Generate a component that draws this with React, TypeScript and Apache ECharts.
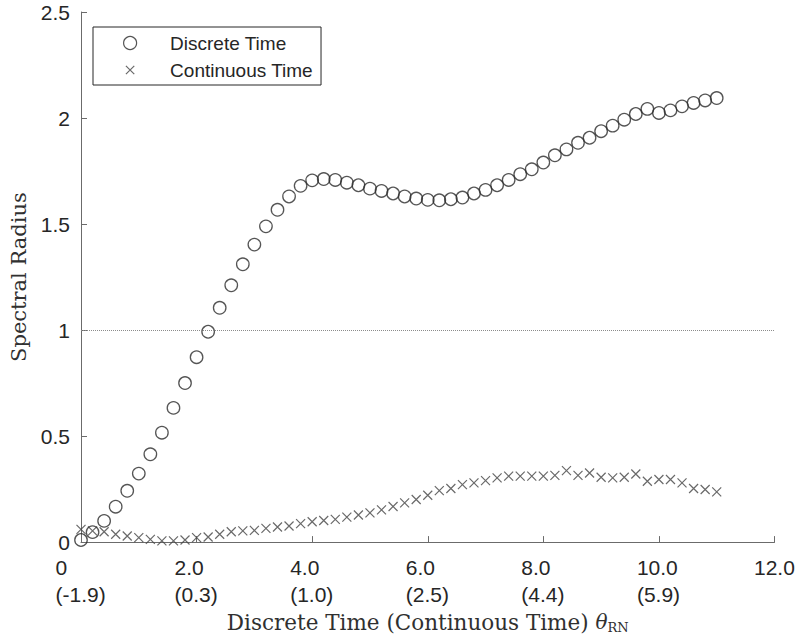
import React, { useEffect, useRef } from 'react';
import * as echarts from 'echarts';

const xValues = [
  0, 0.2, 0.4, 0.6, 0.8, 1.0, 1.2, 1.4, 1.6, 1.8,
  2.0, 2.2, 2.4, 2.6, 2.8, 3.0, 3.2, 3.4, 3.6, 3.8,
  4.0, 4.2, 4.4, 4.6, 4.8, 5.0, 5.2, 5.4, 5.6, 5.8,
  6.0, 6.2, 6.4, 6.6, 6.8, 7.0, 7.2, 7.4, 7.6, 7.8,
  8.0, 8.2, 8.4, 8.6, 8.8, 9.0, 9.2, 9.4, 9.6, 9.8,
  10.0, 10.2, 10.4, 10.6, 10.8, 11.0,
];

const discreteTime = [
  0.01, 0.047, 0.1, 0.167, 0.242, 0.323, 0.414, 0.516, 0.633, 0.75,
  0.872, 0.992, 1.105, 1.211, 1.31, 1.403, 1.489, 1.567, 1.63, 1.68,
  1.706, 1.712, 1.708, 1.695, 1.683, 1.667, 1.656, 1.644, 1.63, 1.62,
  1.614, 1.612, 1.617, 1.625, 1.644, 1.661, 1.683, 1.708, 1.735, 1.758,
  1.79, 1.824, 1.852, 1.883, 1.907, 1.938, 1.964, 1.992, 2.019, 2.043,
  2.024, 2.036, 2.055, 2.071, 2.083, 2.094,
];

const continuousTime = [
  0.06, 0.053, 0.049, 0.037, 0.029, 0.021, 0.013, 0.006, 0.006, 0.01,
  0.021, 0.024, 0.037, 0.049, 0.053, 0.055, 0.065, 0.071, 0.076, 0.087,
  0.096, 0.102, 0.107, 0.118, 0.128, 0.138, 0.152, 0.168, 0.185, 0.201,
  0.221, 0.243, 0.253, 0.271, 0.279, 0.29, 0.303, 0.311, 0.311, 0.311,
  0.311, 0.315, 0.337, 0.315, 0.326, 0.306, 0.303, 0.306, 0.321, 0.287,
  0.295, 0.295, 0.279, 0.253, 0.248, 0.237,
];

const xTickMain = ['0', '2.0', '4.0', '6.0', '8.0', '10.0', '12.0'];
const xTickSub = ['(-1.9)', '(0.3)', '(1.0)', '(2.5)', '(4.4)', '(5.9)', ''];

const seriesNames = ['Discrete Time', 'Continuous Time'];

const SANS = '"Liberation Sans", Arial, Helvetica, sans-serif';
const SERIF = '"DejaVu Serif", serif';
const TICK_FS = 21;
const TEXT_COLOR = '#262626';
const AXIS_COLOR = '#6b6b6b';

function measure(text: string, font: string): number {
  const c = document.createElement('canvas');
  const ctx = c.getContext('2d');
  if (!ctx) return text.length * 10;
  ctx.font = font;
  return ctx.measureText(text).width;
}

export default function App() {
  const ref = useRef<HTMLDivElement>(null);

  useEffect(() => {
    if (!ref.current) return;
    const chart = echarts.init(ref.current, null, { renderer: 'svg' });

    const tickFont = `${TICK_FS}px ${SANS}`;
    const rich: Record<string, any> = {};
    xTickMain.forEach((m, i) => {
      const w = Math.max(measure(m, tickFont), measure(xTickSub[i], tickFont));
      rich['t' + i] = {
        width: Math.ceil(w),
        align: 'left',
        fontSize: TICK_FS,
        fontFamily: SANS,
        lineHeight: 27,
        color: TEXT_COLOR,
      };
    });

    const option: any = {
      animation: false,
      backgroundColor: '#ffffff',
      grid: { left: 76, right: 20, top: 12, bottom: 94.5, containLabel: false },
      legend: {
        left: 93,
        top: 27,
        orient: 'vertical',
        itemWidth: 14,
        itemHeight: 13,
        itemGap: 7,
        padding: [6, 8, 5, 30],
        borderColor: '#262626',
        borderWidth: 1,
        backgroundColor: '#ffffff',
        selectedMode: false,
        formatter: (name: string) => `{sp| }${name}`,
        textStyle: {
          fontFamily: SANS,
          fontSize: 19,
          color: TEXT_COLOR,
          lineHeight: 20,
          rich: { sp: { width: 28, fontSize: 19, lineHeight: 20 } },
        },
        itemStyle: { borderWidth: 1.2 },
        data: [
          { name: seriesNames[0], icon: 'circle' },
          { name: seriesNames[1], icon: 'path://M0,0L9,9M9,0L0,9M-2.5,-2.5M11.5,11.5' },
        ],
      },
      xAxis: {
        type: 'value',
        min: 0,
        max: 12,
        interval: 2,
        name: 'Discrete Time (Continuous Time) {th|θ}{sub|RN}',
        nameLocation: 'middle',
        nameGap: 61,
        nameTextStyle: {
          fontFamily: SERIF,
          fontSize: 21.5,
          color: '#303030',
          lineHeight: 24,
          rich: {
            th: { fontFamily: SERIF, fontSize: 20, fontStyle: 'italic', color: '#303030', lineHeight: 24 },
            sub: { fontFamily: SERIF, fontSize: 13, color: '#303030', verticalAlign: 'bottom', lineHeight: 18 },
          },
        },
        axisLine: { show: true, lineStyle: { color: AXIS_COLOR, width: 1 } },
        axisTick: { show: true, inside: true, length: 6, lineStyle: { color: AXIS_COLOR } },
        splitLine: { show: false },
        axisLabel: {
          margin: 12,
          showMaxLabel: true,
          showMinLabel: true,
          hideOverlap: false,
          align: 'center',
          formatter: (v: number) => {
            const i = Math.round(v / 2);
            const m = xTickMain[i] ?? '';
            const s = xTickSub[i] ?? '';
            return s ? `{t${i}|${m}}\n{t${i}|${s}}` : `{t${i}|${m}}`;
          },
          rich,
        },
      },
      yAxis: {
        type: 'value',
        min: 0,
        max: 2.5,
        interval: 0.5,
        name: 'Spectral Radius',
        nameLocation: 'middle',
        nameGap: 52,
        nameTextStyle: { fontFamily: SERIF, fontSize: 21, color: '#303030' },
        axisLine: { show: true, lineStyle: { color: AXIS_COLOR, width: 1 } },
        axisTick: { show: true, inside: true, length: 6, lineStyle: { color: AXIS_COLOR } },
        splitLine: { show: false },
        axisLabel: { margin: 11, fontFamily: SANS, fontSize: TICK_FS, color: TEXT_COLOR },
      },
      series: [
        {
          name: seriesNames[1],
          type: 'scatter',
          data: xValues.map((x, i) => [x, continuousTime[i]]),
          symbol: 'path://M0,0L10,10M10,0L0,10',
          symbolSize: 9,
          itemStyle: { color: 'rgba(0,0,0,0)', borderColor: '#444444', borderWidth: 1.2 },
          z: 2,
          markLine: {
            silent: true,
            symbol: 'none',
            label: { show: false },
            lineStyle: { type: 'dotted', color: '#8c8c8c', width: 1 },
            data: [{ yAxis: 1 }],
          },
        },
        {
          name: seriesNames[0],
          type: 'scatter',
          data: xValues.map((x, i) => [x, discreteTime[i]]),
          symbol: 'circle',
          symbolSize: 12.5,
          itemStyle: { color: 'rgba(0,0,0,0)', borderColor: '#2a2a2a', borderWidth: 1.3 },
          z: 3,
        },
      ],
    };

    chart.setOption(option);
    return () => {
      chart.dispose();
    };
  }, []);

  return (
    <div
      ref={ref}
      style={{ position: 'fixed', left: 0, top: 0, width: 798, height: 639 }}
    />
  );
}
